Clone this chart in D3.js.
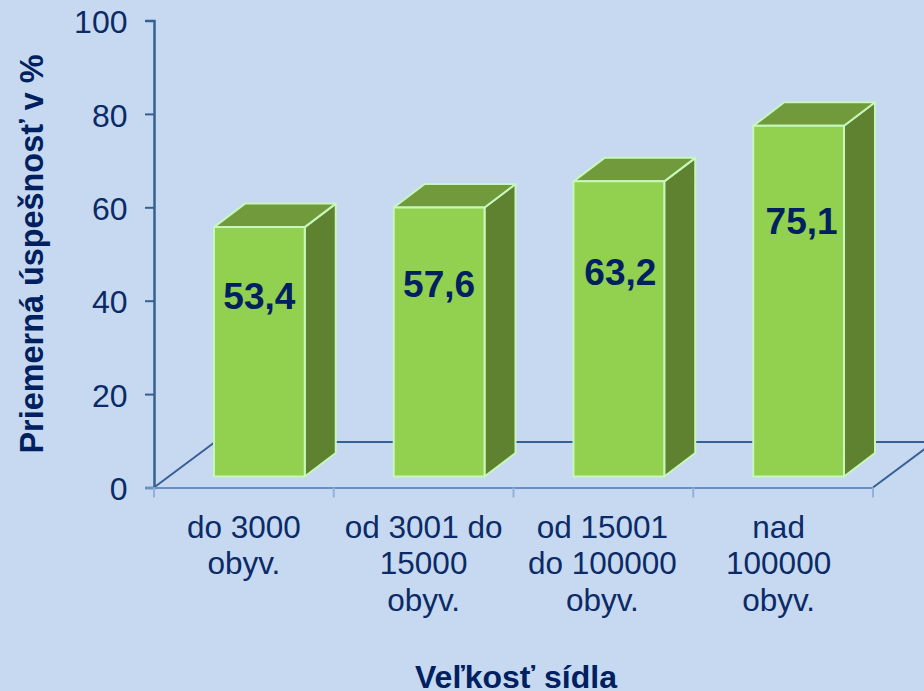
<!DOCTYPE html>
<html>
<head>
<meta charset="utf-8">
<script src="https://cdn.jsdelivr.net/npm/d3@7"></script>
<style>
    html, body { margin: 0; padding: 0; background: #c6d9f1; }
    svg { display: block; font-family: "Liberation Sans", Arial, sans-serif; }
</style>
</head>
<body>
<div id="chart"></div>
<script>
const categories = ["do 3000 obyv.", "od 3001 do 15000 obyv.", "od 15001 do 100000 obyv.", "nad 100000 obyv."];
const categoryLines = [
    ["do 3000", "obyv."],
    ["od 3001 do", "15000", "obyv."],
    ["od 15001", "do 100000", "obyv."],
    ["nad", "100000", "obyv."]
];
const values = [53.4, 57.6, 63.2, 75.1];
const valueLabels = ["53,4", "57,6", "63,2", "75,1"];
const yTicks = [0, 20, 40, 60, 80, 100];
const yTitle = "Priemerná úspešnosť v %";
const xTitle = "Veľkosť sídla";

const width = 924, height = 691;
const plot = { left: 154, right: 873, top: 20.5, bottom: 487.5 };
// oblique offsets of the fake 3d box and of the floor
const depth = { x: 31, y: 23.5 };
const floor = { x: 61, y: 45.5, front: 11, shift: 15.5 };

const textColor = "#0b2a66";

const svg = d3.select("#chart").append("svg")
    .attr("width", width)
    .attr("height", height);

svg.append("rect")
    .attr("width", width)
    .attr("height", height)
    .attr("fill", "#c6d9f1");

const x = d3.scaleBand()
    .domain(categories)
    .range([plot.left, plot.right])
    .paddingInner(0.495)
    .paddingOuter(0.2475);

const y = d3.scaleLinear()
    .domain([0, 100])
    .range([plot.bottom, plot.top]);

// floor lines behind the bars
const floorG = svg.append("g")
    .attr("fill", "none")
    .attr("stroke", "#376092")
    .attr("stroke-width", 2);

floorG.append("line")
    .attr("x1", plot.left).attr("y1", y(0))
    .attr("x2", plot.left + floor.x).attr("y2", y(0) - floor.y);
floorG.append("line")
    .attr("x1", plot.right).attr("y1", y(0))
    .attr("x2", plot.right + floor.x).attr("y2", y(0) - floor.y);
floorG.append("line")
    .attr("x1", plot.left + floor.x).attr("y1", y(0) - floor.y)
    .attr("x2", plot.right + floor.x).attr("y2", y(0) - floor.y);

// axes
const yAxis = d3.axisLeft(y).tickValues(yTicks).tickSize(9).tickPadding(17.5);
const yG = svg.append("g")
    .attr("transform", `translate(${plot.left},0)`)
    .call(yAxis);
yG.select(".domain").attr("stroke", "#376092").attr("stroke-width", 2.5);
yG.selectAll(".tick line").attr("stroke", "#376092").attr("stroke-width", 2);
yG.selectAll(".tick text")
    .attr("font-size", 32)
    .attr("font-family", "Liberation Sans")
    .attr("dy", "0.38em")
    .attr("fill", textColor);

svg.append("line")
    .attr("x1", plot.left - 9).attr("x2", plot.right)
    .attr("y1", y(0) + 0.5).attr("y2", y(0) + 0.5)
    .attr("stroke", "#6a8fc4").attr("stroke-width", 2);

svg.selectAll(".xtick")
    .data(d3.range(categories.length + 1))
    .enter().append("line")
    .attr("class", "xtick")
    .attr("x1", i => plot.left + i * x.step())
    .attr("x2", i => plot.left + i * x.step())
    .attr("y1", y(0))
    .attr("y2", y(0) + 10)
    .attr("stroke", "#94b0dc")
    .attr("stroke-width", 2);

// bars
const floorY = y(0) - floor.front;
const barH = v => y(0) - y(v);

const bars = svg.selectAll(".bar")
    .data(categories.map((c, i) => ({ c, v: values[i] })))
    .enter().append("g")
    .attr("class", "bar")
    .attr("stroke", "#c8f7bd")
    .attr("stroke-width", 2)
    .attr("stroke-linejoin", "round");

const barLeft = d => x(d.c) + floor.shift;
const barRight = d => barLeft(d) + x.bandwidth();
const barTop = d => floorY - barH(d.v);

bars.append("path")
    .attr("fill", "#5f8230")
    .attr("d", d => `M${barRight(d)},${barTop(d)}L${barRight(d) + depth.x},${barTop(d) - depth.y}L${barRight(d) + depth.x},${floorY - depth.y}L${barRight(d)},${floorY}Z`);

bars.append("path")
    .attr("fill", "#709a3c")
    .attr("d", d => `M${barLeft(d)},${barTop(d)}L${barLeft(d) + depth.x},${barTop(d) - depth.y}L${barRight(d) + depth.x},${barTop(d) - depth.y}L${barRight(d)},${barTop(d)}Z`);

bars.append("rect")
    .attr("fill", "#92d050")
    .attr("x", barLeft)
    .attr("y", barTop)
    .attr("width", x.bandwidth())
    .attr("height", d => barH(d.v));

// the labels sit at these heights, in axis units above the floor
const labelLevels = [35.9, 38.5, 40.9, 52];
const labelNudge = [0, 0, 1.5, 3];
svg.selectAll(".value-label")
    .data(valueLabels)
    .enter().append("text")
    .attr("class", "value-label")
    .attr("x", (d, i) => x(categories[i]) + floor.shift + x.bandwidth() / 2 + labelNudge[i])
    .attr("y", (d, i) => floorY - barH(labelLevels[i]))
    .attr("text-anchor", "middle")
    .attr("font-size", 37)
    .attr("font-weight", "bold")
    .attr("fill", "#002060")
    .text(d => d);

// category labels, the last two are not quite centred under their band
const catNudge = [0, 0, -1, -4.5];
const catG = svg.selectAll(".cat")
    .data(categoryLines)
    .enter().append("text")
    .attr("class", "cat")
    .attr("text-anchor", "middle")
    .attr("font-size", 31.5)
    .attr("fill", textColor);

catG.selectAll("tspan")
    .data((d, i) => d.map(t => ({ t, i })))
    .enter().append("tspan")
    .attr("x", d => x(categories[d.i]) + x.bandwidth() / 2 + catNudge[d.i])
    .attr("y", (d, j) => 537.5 + j * 36.7)
    .text(d => d.t);

svg.append("text")
    .attr("x", 516)
    .attr("y", 688)
    .attr("text-anchor", "middle")
    .attr("font-size", 32)
    .attr("font-weight", "bold")
    .attr("fill", "#002060")
    .text(xTitle);

svg.append("text")
    .attr("transform", "translate(43,254) rotate(-90)")
    .attr("text-anchor", "middle")
    .attr("font-size", 32.4)
    .attr("font-weight", "bold")
    .attr("fill", "#002060")
    .text(yTitle);
</script>
</body>
</html>
